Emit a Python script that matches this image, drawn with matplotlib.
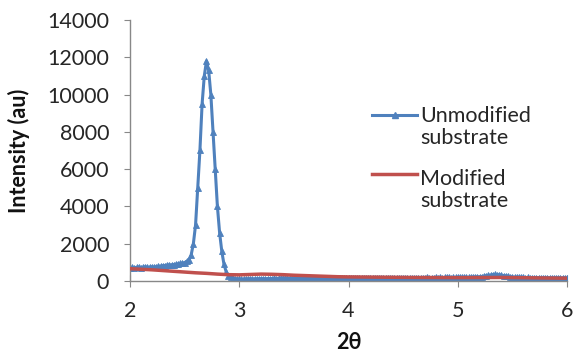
import numpy as np
import matplotlib
matplotlib.use("Agg")
import matplotlib.pyplot as plt
from matplotlib.lines import Line2D

plt.rcParams['font.family'] = ['Lato', 'DejaVu Sans']

# Unmodified substrate (2θ grid, step 0.02)
x_unmod = np.round(np.arange(2.0, 6.0001, 0.02), 2)
y_unmod = [
    # 2.00 - 2.18
    720, 740, 710, 730, 750, 720, 740, 760, 730, 750,
    # 2.20 - 2.38
    760, 740, 770, 790, 800, 820, 830, 850, 860, 870,
    # 2.40 - 2.58
    880, 900, 920, 940, 960, 990, 1050, 1150, 1400, 2000,
    # 2.60 - 2.78
    3000, 5000, 7000, 9500, 11000, 11800, 11300, 10000, 8000, 6000,
    # 2.80 - 2.98
    4000, 2600, 1600, 900, 500, 290, 200, 160, 130, 110,
    # 3.00 - 3.18
    100, 100, 110, 105, 110, 115, 110, 120, 115, 120,
    # 3.20 - 3.38
    120, 125, 120, 130, 125, 130, 135, 130, 140, 135,
    # 3.40 - 3.58
    140, 135, 140, 145, 140, 145, 140, 150, 145, 150,
    # 3.60 - 3.78
    145, 150, 155, 150, 155, 150, 160, 155, 160, 155,
    # 3.80 - 3.98
    160, 155, 160, 165, 160, 165, 160, 170, 165, 170,
    # 4.00 - 4.18
    165, 170, 170, 165, 170, 175, 170, 170, 175, 170,
    # 4.20 - 4.38
    175, 170, 175, 180, 175, 170, 175, 180, 175, 180,
    # 4.40 - 4.58
    175, 180, 175, 180, 185, 180, 175, 180, 185, 180,
    # 4.60 - 4.78
    180, 185, 180, 185, 180, 185, 190, 185, 180, 185,
    # 4.80 - 4.98
    190, 185, 190, 185, 190, 195, 190, 185, 190, 195,
    # 5.00 - 5.18
    190, 195, 190, 195, 200, 195, 200, 205, 210, 220,
    # 5.20 - 5.38
    230, 240, 260, 280, 300, 320, 340, 350, 340, 330,
    # 5.40 - 5.58
    310, 290, 270, 250, 230, 215, 205, 200, 195, 190,
    # 5.60 - 5.78
    190, 185, 190, 185, 180, 185, 180, 185, 180, 175,
    # 5.80 - 5.98
    180, 175, 180, 175, 170, 175, 170, 175, 170, 165,
    # 6.00
    165,
]

# Modified substrate
x_mod = [2.0, 2.1, 2.2, 2.3, 2.4, 2.5, 2.6, 2.7, 2.8, 2.9, 3.0, 3.1, 3.2, 3.3,
         3.4, 3.5, 3.6, 3.7, 3.8, 3.9, 4.0, 4.2, 4.4, 4.6, 4.8, 5.0, 5.2, 5.4,
         5.6, 5.8, 6.0]
y_mod = [660, 630, 600, 560, 520, 480, 440, 410, 370, 340, 330, 350, 370, 360,
         340, 310, 290, 270, 250, 230, 220, 210, 200, 190, 185, 180, 185, 190,
         175, 160, 150]

xticks = [2, 3, 4, 5, 6]
yticks = [0, 2000, 4000, 6000, 8000, 10000, 12000, 14000]
labels = ['Unmodified\nsubstrate', 'Modified\nsubstrate']
colors = ['#4f81bd', '#c0504d']
text_color = '#262626'
fs = 15.5

W, H = 579, 356
fig = plt.figure(figsize=(W / 100, H / 100), dpi=100)
ax = fig.add_axes([130 / W, 1 - 281 / H, 437 / W, 261 / H])

ax.plot(x_unmod, y_unmod, color=colors[0], lw=2.2, marker='^', ms=4.8,
        markeredgewidth=0.6, zorder=2)
ax.plot(x_mod, y_mod, color=colors[1], lw=2.5, zorder=3)

ax.set_xlim(2, 6)
ax.set_ylim(0, 14000)
ax.set_xticks(xticks)
ax.set_yticks(yticks)

for s in ['top', 'right']:
    ax.spines[s].set_visible(False)
for s in ['left', 'bottom']:
    ax.spines[s].set_color('#888888')
    ax.spines[s].set_linewidth(1.0)

ax.tick_params(axis='y', direction='out', length=4, color='#888888',
               labelsize=fs, labelcolor=text_color, pad=11)
ax.tick_params(axis='x', direction='inout', length=8, color='#888888',
               labelsize=fs, labelcolor=text_color, pad=10.5)

ax.set_xlabel('2θ', fontsize=fs, fontweight='bold', labelpad=8,
              color='#111111')
ax.set_ylabel('Intensity (au)', fontsize=fs, fontweight='bold', labelpad=12,
              color='#111111')

# Legend (Excel style: handle aligned with the first text line)
handle_y = [115, 174]
text_center_y = [127, 190]
for lab, col, hy, ty, mk in zip(labels, colors, handle_y, text_center_y,
                                ['^', None]):
    fig.add_artist(Line2D([372 / W, 417 / W], [1 - hy / H, 1 - hy / H],
                          transform=fig.transFigure, color=col,
                          lw=2.5 if mk is None else 2.2))
    if mk:
        fig.add_artist(Line2D([394.5 / W], [1 - hy / H], marker=mk, ms=5,
                              color=col, transform=fig.transFigure))
    fig.text(420 / W, 1 - ty / H, lab, fontsize=fs, color=text_color,
             ha='left', va='center', linespacing=1.1)

fig.savefig('out.png', dpi=100)
